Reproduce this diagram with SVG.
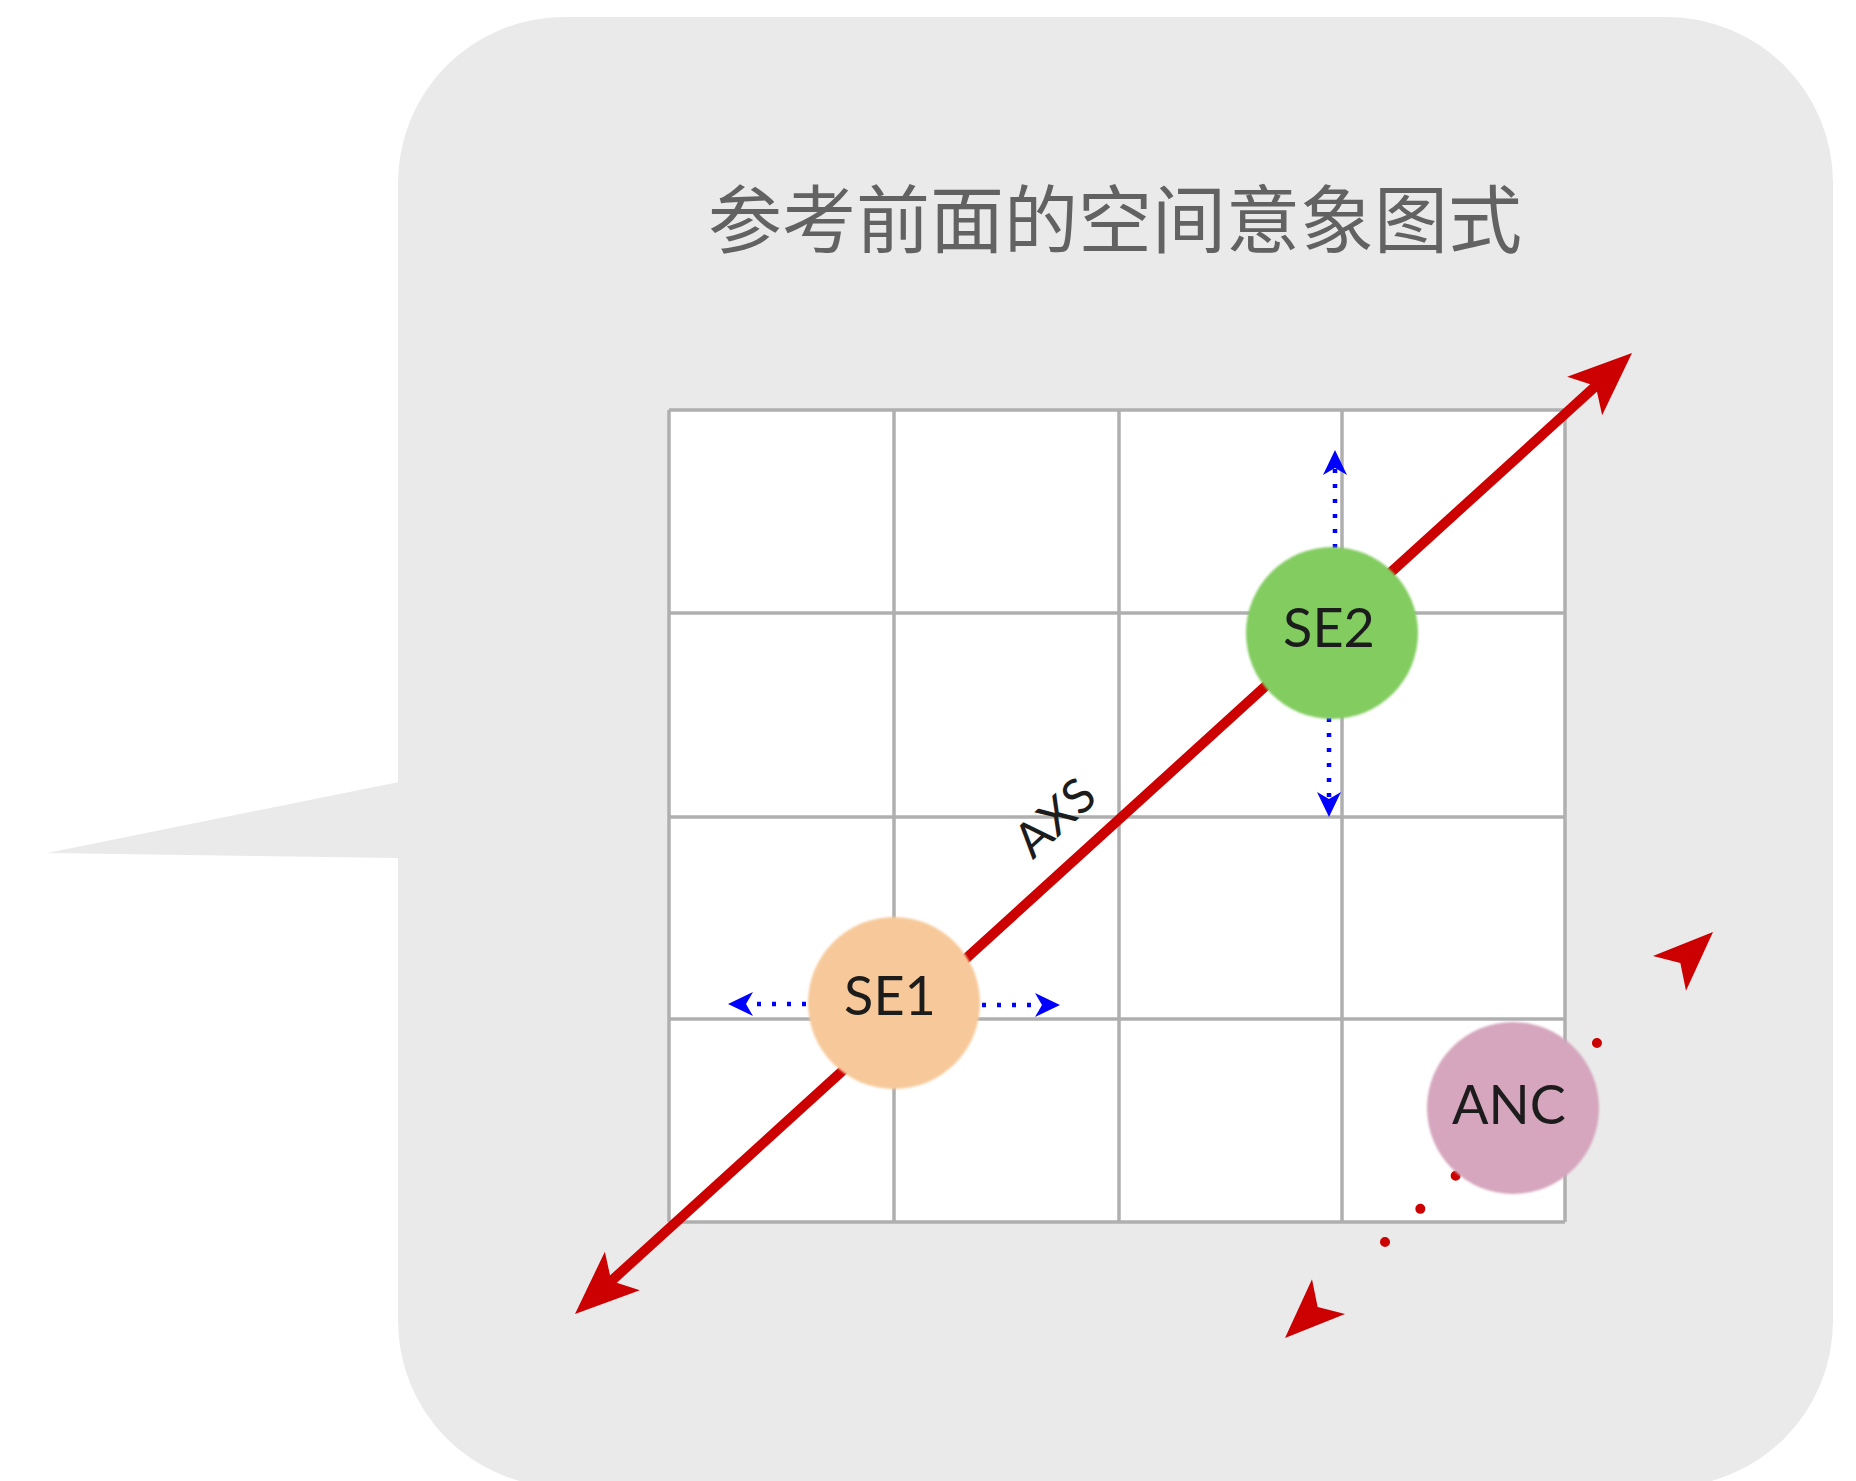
<svg xmlns="http://www.w3.org/2000/svg" width="1856" height="1481" viewBox="0 0 1856 1481">
  <style>
    .bubble { fill: #eaeaea; }
    .title { font-family: "Noto Sans CJK SC", "Noto Sans", sans-serif; font-size: 74px; fill: #626262; }
    .gridline { stroke: #afafaf; stroke-width: 3.5; fill: none; }
    .axis { stroke: #cc0000; stroke-width: 10; fill: none; }
    .dotted-blue { stroke: #0000ff; stroke-width: 4.5; stroke-dasharray: 4 11; fill: none; }
    .dotted-red { stroke: #cc0000; stroke-width: 10; stroke-linecap: round; stroke-dasharray: 0 48.45; fill: none; }
    .head-red { fill: #cc0000; }
    .label { font-family: "Lato", "Liberation Sans", sans-serif; fill: #1c1c1c; text-anchor: middle; }
    .node-text { font-size: 54px; }
    .axs { font-size: 48px; }
  </style>
  <defs>
    <marker id="redHead" markerUnits="userSpaceOnUse" markerWidth="120" markerHeight="120" refX="0" refY="0" orient="auto-start-reverse" overflow="visible">
      <path d="M45,0 L-19,-26 L-4,0 L-19,26 Z" fill="#cc0000"/>
    </marker>
    <marker id="blueHead" markerUnits="userSpaceOnUse" markerWidth="60" markerHeight="60" refX="0" refY="0" orient="auto" overflow="visible">
      <path d="M18,0 L-7,-12 L0,0 L-7,12 Z" fill="#0000ff"/>
    </marker>
    <filter id="soft" x="-10%" y="-10%" width="120%" height="120%">
      <feGaussianBlur stdDeviation="1.2"/>
    </filter>
  </defs>

  <g id="bubble">
    <rect class="bubble" x="398" y="17" width="1435" height="1470" rx="166" ry="166"/>
    <polygon class="bubble" points="399,782 47,853 399,858"/>
  </g>

  <g id="title">
    <text class="title" x="1115" y="247" text-anchor="middle">参考前面的空间意象图式</text>
  </g>

  <g id="grid">
    <rect x="669" y="410" width="896" height="812" fill="#ffffff"/>
    <line class="gridline" x1="669" y1="410" x2="669" y2="1222"/>
    <line class="gridline" x1="894" y1="410" x2="894" y2="1222"/>
    <line class="gridline" x1="1119" y1="410" x2="1119" y2="1222"/>
    <line class="gridline" x1="1342" y1="410" x2="1342" y2="1222"/>
    <line class="gridline" x1="1565" y1="410" x2="1565" y2="1222"/>
    <line class="gridline" x1="669" y1="410" x2="1565" y2="410"/>
    <line class="gridline" x1="669" y1="613" x2="1565" y2="613"/>
    <line class="gridline" x1="669" y1="817" x2="1565" y2="817"/>
    <line class="gridline" x1="669" y1="1019" x2="1565" y2="1019"/>
    <line class="gridline" x1="669" y1="1222" x2="1565" y2="1222"/>
  </g>

  <g id="connectors">
    <line id="axis" class="axis" x1="608.3" y1="1283.7" x2="1598.7" y2="383.3" marker-start="url(#redHead)" marker-end="url(#redHead)"/>
    <line id="se1-left" class="dotted-blue" x1="806" y1="1004" x2="746" y2="1004" marker-end="url(#blueHead)"/>
    <line id="se1-right" class="dotted-blue" x1="982" y1="1005" x2="1042" y2="1005" marker-end="url(#blueHead)"/>
    <line id="se2-up" class="dotted-blue" x1="1335" y1="548" x2="1335" y2="468" marker-end="url(#blueHead)"/>
    <line id="se2-down" class="dotted-blue" x1="1329" y1="718" x2="1329" y2="799" marker-end="url(#blueHead)"/>
    <g id="anc-axis">
      <line class="dotted-red" x1="1385" y1="1242" x2="1597" y2="1043"/>
      <path class="head-red" transform="translate(1713,932) rotate(-43.5)" d="M0,0 L-60,-24 L-45,0 L-60,24 Z"/>
      <path class="head-red" transform="translate(1285,1338) rotate(136.5)" d="M0,0 L-60,-24 L-45,0 L-60,24 Z"/>
    </g>
  </g>

  <g id="axs-label">
    <text class="label axs" transform="translate(1066,830) rotate(-42.3)">AXS</text>
  </g>

  <g id="node-se1">
    <circle cx="894" cy="1003" r="86" fill="#f7c99a" filter="url(#soft)"/>
    <text class="label node-text" x="890" y="1015">SE1</text>
  </g>
  <g id="node-se2">
    <circle cx="1332" cy="633" r="86" fill="#82cc60" filter="url(#soft)"/>
    <text class="label node-text" x="1329" y="647">SE2</text>
  </g>
  <g id="node-anc">
    <circle cx="1513" cy="1108" r="86" fill="#d5a6bd" filter="url(#soft)"/>
    <text class="label node-text" x="1509" y="1124">ANC</text>
  </g>
</svg>
